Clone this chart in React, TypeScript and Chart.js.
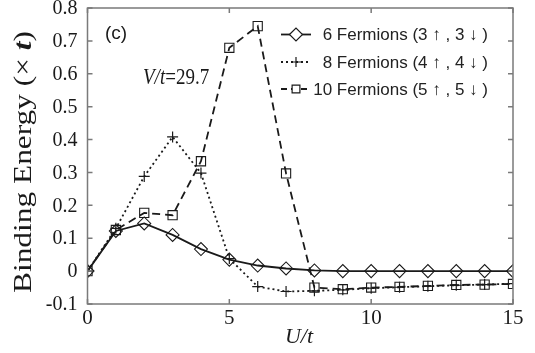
import React, { useEffect, useRef } from "react";
import { Chart, registerables } from "chart.js";

Chart.register(...registerables);

const uValues = [0, 1, 2, 3, 4, 5, 6, 7, 8, 9, 10, 11, 12, 13, 14, 15];
const fermions6 = [0, 0.122, 0.145, 0.11, 0.067, 0.035, 0.017, 0.008, 0.002, 0, 0, 0, 0, 0, 0, 0];
const fermions8 = [0, 0.13, 0.288, 0.408, 0.298, 0.038, -0.047, -0.062, -0.06, -0.057, -0.052, -0.049, -0.046, -0.043, -0.041, -0.038];
const fermions10 = [0, 0.125, 0.177, 0.17, 0.334, 0.679, 0.745, 0.297, -0.05, -0.055, -0.05, -0.048, -0.045, -0.042, -0.041, -0.039];
const seriesLabels = ["6 Fermions (3 \u2191 , 3 \u2193 )", "8 Fermions (4 \u2191 , 4 \u2193 )", "10 Fermions (5 \u2191 , 5 \u2193 )"];
const xTicks = [0, 5, 10, 15];
const xTickLabels = ["0", "5", "10", "15"];
const yTicks = [-0.1, 0, 0.1, 0.2, 0.3, 0.4, 0.5, 0.6, 0.7, 0.8];
const yTickLabels = ["-0.1", "0", "0.1", "0.2", "0.3", "0.4", "0.5", "0.6", "0.7", "0.8"];

const SERIF = "'Liberation Serif', 'DejaVu Serif', serif";
const SANS = "'Liberation Sans', Arial, sans-serif";
const FRAME = "#7a7a7a";
const INK = "#1a1a1a";

function drawMarker(ctx: CanvasRenderingContext2D, style: string, x: number, y: number, r: number) {
  ctx.beginPath();
  if (style === "rectRot") {
    ctx.moveTo(x - r, y);
    ctx.lineTo(x, y - r);
    ctx.lineTo(x + r, y);
    ctx.lineTo(x, y + r);
    ctx.closePath();
  } else if (style === "cross") {
    ctx.moveTo(x - r, y);
    ctx.lineTo(x + r, y);
    ctx.moveTo(x, y - r);
    ctx.lineTo(x, y + r);
  } else {
    const s = r * Math.SQRT1_2;
    ctx.rect(x - s, y - s, 2 * s, 2 * s);
  }
  ctx.stroke();
}

const decorPlugin = {
  id: "decor",
  afterDraw(chart: any) {
    const ctx: CanvasRenderingContext2D = chart.ctx;
    const { left, right, top, bottom } = chart.chartArea;
    const xs = chart.scales.x;
    const ys = chart.scales.y;
    ctx.save();
    // frame
    ctx.strokeStyle = FRAME;
    ctx.lineWidth = 1.5;
    ctx.setLineDash([]);
    ctx.strokeRect(left, top, right - left, bottom - top);
    // inward ticks
    const tl = 5;
    ctx.beginPath();
    yTicks.forEach((v) => {
      const py = ys.getPixelForValue(v);
      ctx.moveTo(left, py);
      ctx.lineTo(left + tl, py);
      ctx.moveTo(right, py);
      ctx.lineTo(right - tl, py);
    });
    xTicks.forEach((v) => {
      const px = xs.getPixelForValue(v);
      ctx.moveTo(px, bottom);
      ctx.lineTo(px, bottom - tl);
      ctx.moveTo(px, top);
      ctx.lineTo(px, top + tl);
    });
    ctx.stroke();

    // tick labels
    ctx.fillStyle = INK;
    ctx.font = `20px ${SERIF}`;
    ctx.textAlign = "right";
    ctx.textBaseline = "middle";
    yTicks.forEach((v, i) => {
      ctx.fillText(yTickLabels[i], left - 10, ys.getPixelForValue(v) + 1);
    });
    ctx.font = `21px ${SERIF}`;
    ctx.textAlign = "center";
    ctx.textBaseline = "alphabetic";
    xTicks.forEach((v, i) => {
      ctx.fillText(xTickLabels[i], xs.getPixelForValue(v), bottom + 20);
    });

    // legend
    const rows = [34.5, 62, 89];
    const styles = [
      { dash: [] as number[], marker: "rectRot", r: 6.5 },
      { dash: [2, 3], marker: "cross", r: 5 },
      { dash: [6, 4], marker: "rect", r: 6 },
    ];
    ctx.font = `17px ${SANS}`;
    ctx.textAlign = "right";
    ctx.textBaseline = "middle";
    rows.forEach((ry, i) => {
      const st = styles[i];
      ctx.strokeStyle = INK;
      ctx.lineWidth = 1.8;
      ctx.setLineDash(st.dash);
      ctx.beginPath();
      ctx.moveTo(281, ry);
      ctx.lineTo(311, ry);
      ctx.stroke();
      ctx.setLineDash([]);
      ctx.lineWidth = 1.2;
      ctx.fillStyle = "#ffffff";
      if (st.marker === "rect") {
        const s = 5.5 * Math.SQRT1_2;
        ctx.fillRect(296 - s, ry - s, 2 * s, 2 * s);
      } else if (st.marker === "rectRot") {
        ctx.beginPath();
        ctx.moveTo(296 - st.r, ry);
        ctx.lineTo(296, ry - st.r);
        ctx.lineTo(296 + st.r, ry);
        ctx.lineTo(296, ry + st.r);
        ctx.closePath();
        ctx.fill();
      }
      drawMarker(ctx, st.marker, 296, ry, st.marker === "rect" ? 5.5 : st.r);
      ctx.fillStyle = "#222222";
      ctx.fillText(seriesLabels[i], 488, ry + 1);
    });

    // (c)
    ctx.fillStyle = INK;
    ctx.textAlign = "left";
    ctx.font = `19px ${SANS}`;
    ctx.fillText("(c)", 105, 34);

    // V/t=29.7 (slightly tall glyphs, as in the reference)
    ctx.save();
    ctx.textBaseline = "alphabetic";
    ctx.translate(143, 84);
    ctx.scale(1, 1.25);
    ctx.font = `italic 19px ${SERIF}`;
    ctx.fillText("V/t", 0, 0);
    const vw = ctx.measureText("V/t").width;
    ctx.font = `19px ${SERIF}`;
    ctx.fillText("=29.7", vw, 0);
    ctx.restore();

    // x title
    ctx.textBaseline = "alphabetic";
    ctx.font = `italic 22px ${SERIF}`;
    ctx.textAlign = "center";
    ctx.fillText("U/t", 299, 343);

    // y title
    ctx.translate(31, 162);
    ctx.rotate(-Math.PI / 2);
    const parts = [
      { t: "Binding Energy (\u00d7 ", f: `25px ${SERIF}` },
      { t: "t", f: `italic bold 25px ${SERIF}` },
      { t: ")", f: `25px ${SERIF}` },
    ];
    let total = 0;
    parts.forEach((p) => {
      ctx.font = p.f;
      total += ctx.measureText(p.t).width;
    });
    const sc = 262 / total;
    ctx.scale(sc, 1);
    ctx.textAlign = "left";
    let cx = -total / 2;
    parts.forEach((p) => {
      ctx.font = p.f;
      ctx.fillText(p.t, cx, 0);
      cx += ctx.measureText(p.t).width;
    });
    ctx.restore();
  },
};

export default function App() {
  const ref = useRef<HTMLCanvasElement | null>(null);
  useEffect(() => {
    if (!ref.current) return;
    const mk = (d: number[]) => uValues.map((u, i) => ({ x: u, y: d[i] }));
    const chart = new Chart(ref.current, {
      type: "line",
      data: {
        datasets: [
          {
            label: seriesLabels[0],
            data: mk(fermions6),
            borderColor: INK,
            borderWidth: 1.8,
            pointStyle: "rectRot",
            pointRadius: 6.5,
            pointBorderWidth: 1.1,
            pointBorderColor: INK,
            pointBackgroundColor: "rgba(0,0,0,0)",
          },
          {
            label: seriesLabels[1],
            data: mk(fermions8),
            borderColor: INK,
            borderWidth: 1.8,
            borderDash: [2, 3],
            pointStyle: "cross",
            pointRadius: 5.5,
            pointBorderWidth: 1.2,
            pointBorderColor: INK,
            pointBackgroundColor: "rgba(0,0,0,0)",
          },
          {
            label: seriesLabels[2],
            data: mk(fermions10),
            borderColor: INK,
            borderWidth: 1.8,
            borderDash: [8, 5],
            pointStyle: "rect",
            pointRadius: 6.5,
            pointBorderWidth: 1.1,
            pointBorderColor: INK,
            pointBackgroundColor: "rgba(0,0,0,0)",
          },
        ],
      },
      options: {
        responsive: false,
        animation: false,
        devicePixelRatio: 1,
        layout: { padding: { top: 8, right: 22, left: 0, bottom: 0 } },
        plugins: { legend: { display: false }, tooltip: { enabled: false } },
        scales: {
          x: {
            type: "linear",
            min: 0,
            max: 15,
            afterBuildTicks: (s: any) => {
              s.ticks = xTicks.map((v) => ({ value: v }));
            },
            afterFit: (s: any) => {
              s.height = 49;
            },
            grid: { display: false, drawTicks: false },
            border: { display: false },
            ticks: { display: false },
          },
          y: {
            type: "linear",
            min: -0.1,
            max: 0.8,
            afterBuildTicks: (s: any) => {
              s.ticks = yTicks.map((v) => ({ value: v }));
            },
            afterFit: (s: any) => {
              s.width = 87.5;
            },
            grid: { display: false, drawTicks: false },
            border: { display: false },
            ticks: { display: false },
          },
        },
      },
      plugins: [decorPlugin],
    });
    return () => chart.destroy();
  }, []);
  return (
    <div style={{ position: "absolute", left: 0, top: 0, width: 535, height: 353, background: "#fff" }}>
      <canvas ref={ref} width={535} height={353} style={{ display: "block" }} />
    </div>
  );
}
